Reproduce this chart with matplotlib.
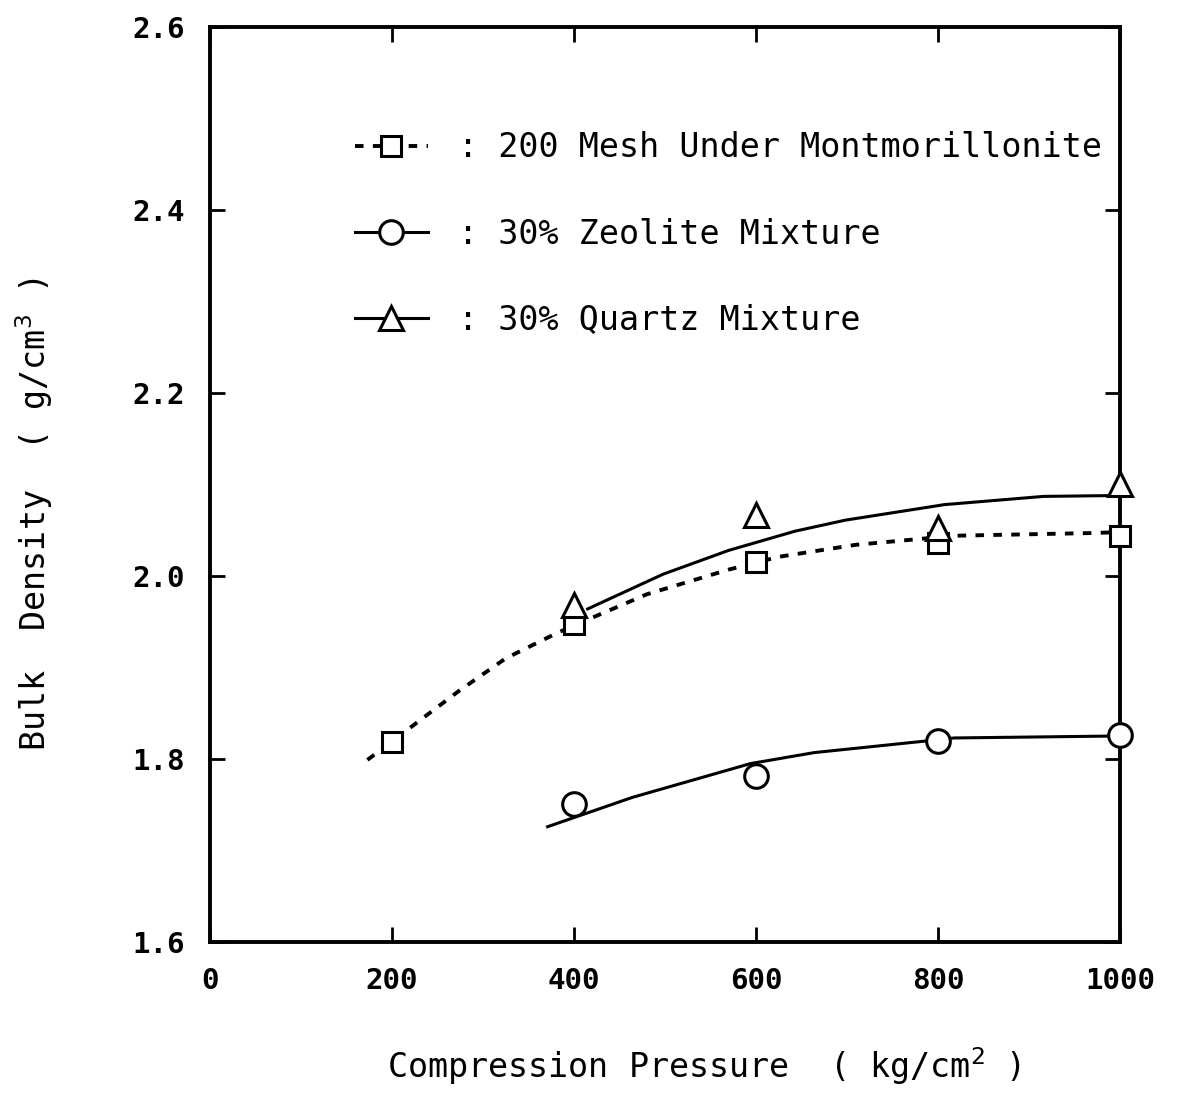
import matplotlib
matplotlib.use('Agg')
import matplotlib.pyplot as plt
from matplotlib.lines import Line2D

plt.rcParams['font.family'] = 'DejaVu Sans Mono'

# measured points
pressure = [200, 400, 600, 800, 1000]
mesh_density = [1.819, 1.948, 2.015, 2.036, 2.044]

pressure_zq = [400, 600, 800, 1000]
zeolite_density = [1.751, 1.781, 1.820, 1.826]
quartz_density = [1.968, 2.067, 2.052, 2.101]

# hand-drawn trend curves
mesh_curve_x = [173, 273, 325, 382, 426, 480, 570, 625, 709, 818, 971, 1000]
mesh_curve_y = [1.799, 1.874, 1.910, 1.938, 1.957, 1.980, 2.007, 2.021, 2.034, 2.044, 2.047, 2.048]

quartz_curve_x = [415, 498, 570, 643, 698, 807, 916, 1000]
quartz_curve_y = [1.964, 2.002, 2.028, 2.049, 2.061, 2.078, 2.087, 2.088]

zeolite_curve_x = [371, 464, 594, 664, 790, 818, 985]
zeolite_curve_y = [1.726, 1.758, 1.795, 1.807, 1.820, 1.823, 1.825]

labels = [': 200 Mesh Under Montmorillonite',
          ': 30% Zeolite Mixture',
          ': 30% Quartz Mixture']

fig = plt.figure(figsize=(11.84, 10.97), dpi=100)
ax = fig.add_axes([210 / 1184, 1 - 942 / 1097, 910 / 1184, 915 / 1097])

dash = (0, (2.2, 2.4))
ax.plot(mesh_curve_x, mesh_curve_y, color='black', lw=2.8, linestyle=dash)
ax.plot(quartz_curve_x, quartz_curve_y, color='black', lw=2.2)
ax.plot(zeolite_curve_x, zeolite_curve_y, color='black', lw=2.2)

mk = dict(color='black', linestyle='none', markerfacecolor='white',
          markeredgewidth=2.2, clip_on=False, zorder=5)
ax.plot(pressure, mesh_density, marker='s', markersize=14, **mk)
ax.plot(pressure_zq, zeolite_density, marker='o', markersize=17, **mk)
ax.plot(pressure_zq, quartz_density, marker='^', markersize=17, **mk)

ax.set_xlim(0, 1000)
ax.set_ylim(1.6, 2.6)
ax.set_xticks([0, 200, 400, 600, 800, 1000])
ax.set_yticks([1.6, 1.8, 2.0, 2.2, 2.4, 2.6])
ax.set_yticklabels(['1.6', '1.8', '2.0', '2.2', '2.4', '2.6'])
ax.tick_params(direction='in', length=11, width=2, top=True, right=True,
               labelsize=21, pad=18)
for lab in ax.get_xticklabels() + ax.get_yticklabels():
    lab.set_fontweight('bold')
for sp in ax.spines.values():
    sp.set_linewidth(2.8)

ax.set_xlabel('Compression Pressure  ( kg/cm$^2$ )', fontsize=24)
ax.xaxis.set_label_coords(0.543, -0.113)
ax.set_ylabel('Bulk  Density  ( g/cm$^3$ )', fontsize=24)
ax.yaxis.set_label_coords(-0.170, 0.467)

handles = [
    Line2D([], [], color='black', lw=2.8, linestyle=dash, marker='s',
           markersize=14, markerfacecolor='white', markeredgewidth=2.2),
    Line2D([], [], color='black', lw=2.2, marker='o', markersize=17,
           markerfacecolor='white', markeredgewidth=2.2),
    Line2D([], [], color='black', lw=2.2, marker='^', markersize=17,
           markerfacecolor='white', markeredgewidth=2.2),
]
ax.legend(handles, labels, loc='upper left', bbox_to_anchor=(0.159, 0.886),
          frameon=False, fontsize=24, handlelength=2.2, handletextpad=0.9,
          labelspacing=1.6, borderpad=0, borderaxespad=0)

fig.savefig('out.png', dpi=100)
